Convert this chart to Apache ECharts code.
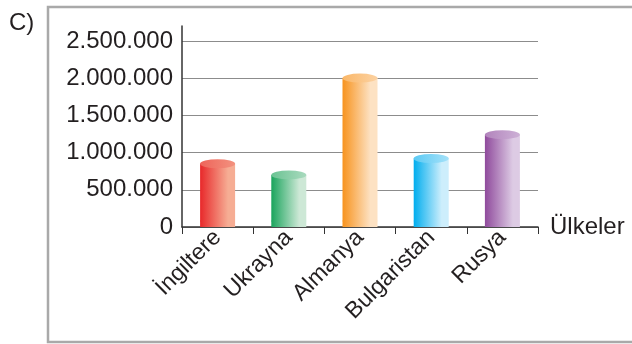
<!DOCTYPE html>
<html>
<head>
<meta charset="utf-8">
<script src="https://cdn.jsdelivr.net/npm/echarts@6/dist/echarts.min.js"></script>
<style>
  html, body { margin: 0; padding: 0; background: #fff; }
  #chart { width: 632px; height: 344px; }
</style>
</head>
<body>
<div id="chart"></div>
<script>
// data
var countries = ['İngiltere', 'Ukrayna', 'Almanya', 'Bulgaristan', 'Rusya']
var people = [850000, 700000, 2000000, 920000, 1240000]
var yTicks = [0, 500000, 1000000, 1500000, 2000000, 2500000]

// cylinder colours: [dark edge, light highlight]
var barColors = [
  ['#e8282a', '#f6ad94'],
  ['#1aa45c', '#cde8d6'],
  ['#f7931e', '#fde2c3'],
  ['#00adee', '#cdeefc'],
  ['#8f4a9c', '#ddcbe4']
]

function bodyGrad(c) {
  return new echarts.graphic.LinearGradient(0, 0, 1, 0, [
    { offset: 0, color: c[0] },
    { offset: 0.8, color: c[1] },
    { offset: 1, color: c[1] }
  ])
}
function topGrad(c) {
  return new echarts.graphic.LinearGradient(0, 0, 1, 0, [
    { offset: 0, color: echarts.color.lerp(0.45, [c[0], c[1]]) },
    { offset: 1, color: echarts.color.lerp(0.8, [c[0], c[1]]) }
  ])
}

function fmt(v) {
  return String(v).replace(/\B(?=(\d{3})+(?!\d))/g, '.')
}

var chart = echarts.init(document.getElementById('chart'))
var font = 'Liberation Sans, Arial, sans-serif'

chart.setOption({
  animation: false,
  textStyle: { fontFamily: font },
  graphic: [
    { type: 'rect', shape: { x: 48, y: 7, width: 700, height: 335 },
      style: { fill: 'none', stroke: '#a9a9a9', lineWidth: 2.5 } },
    { type: 'text', left: 9, top: 11,
      style: { text: 'C)', fontSize: 24, fill: '#231f20', fontFamily: font } }
  ],
  grid: { left: 182, right: 94, top: 26, bottom: 117 },
  xAxis: {
    type: 'category',
    data: countries,
    name: 'Ülkeler',
    nameGap: 12,
    nameTextStyle: { fontSize: 24, color: '#231f20', verticalAlign: 'middle' },
    axisLine: { lineStyle: { color: '#333', width: 1.5 } },
    axisTick: { show: true, length: 7, lineStyle: { color: '#333' } },
    axisLabel: { rotate: 45, fontSize: 23, color: '#231f20', margin: 7, interval: 0 }
  },
  yAxis: {
    type: 'value',
    min: 0,
    max: 2700000,
    interval: 500000,
    axisLine: { show: true, lineStyle: { color: '#333', width: 1.5 } },
    axisTick: { show: false },
    axisLabel: {
      fontSize: 24, color: '#231f20', margin: 9, showMaxLabel: false,
      formatter: function (v) { return yTicks.indexOf(v) >= 0 ? fmt(v) : '' }
    },
    splitLine: { showMaxLine: false, lineStyle: { color: '#8c8c8c', width: 1 } }
  },
  series: [
    {
      type: 'bar',
      barWidth: 35,
      barGap: '-100%',
      z: 2,
      data: people.map(function (v, i) {
        return { value: v, itemStyle: { color: bodyGrad(barColors[i]) } }
      })
    },
    {
      type: 'pictorialBar',
      symbol: 'circle',
      symbolSize: [35, 9],
      symbolPosition: 'end',
      symbolOffset: [0, '-50%'],
      barGap: '-100%',
      z: 3,
      data: people.map(function (v, i) {
        return { value: v, itemStyle: { color: topGrad(barColors[i]) } }
      })
    },
    {
      type: 'pictorialBar',
      symbol: 'circle',
      symbolSize: [35, 6],
      symbolPosition: 'start',
      symbolOffset: [0, '-50%'],
      barGap: '-100%',
      z: 1,
      data: people.map(function (v, i) {
        return { value: v, itemStyle: { color: bodyGrad(barColors[i]) } }
      })
    }
  ]
})
</script>
</body>
</html>
